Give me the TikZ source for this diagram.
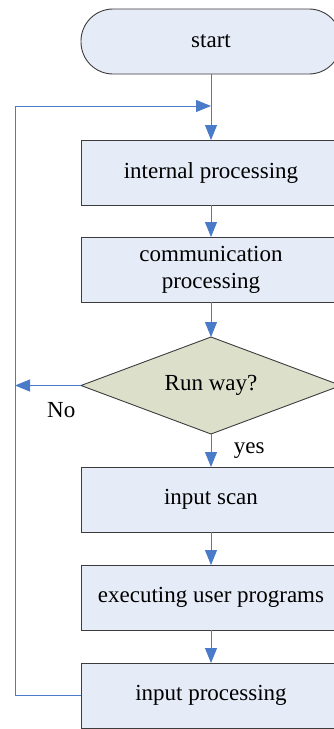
\documentclass[tikz,border=0pt]{standalone}
\usepackage{fontspec}
\setmainfont{Liberation Serif}
\usepackage{tikz}
\usetikzlibrary{arrows.meta,shapes,positioning}

\definecolor{boxfill}{HTML}{E6ECF7}
\definecolor{askfill}{HTML}{DCE0CB}
\definecolor{flowblue}{HTML}{4A7BC8}
\definecolor{edge}{HTML}{3C3C3C}

\tikzset{
    stepbox/.style={rectangle, draw=edge, fill=boxfill, line width=0.9pt,
        minimum width=260pt, minimum height=65pt, inner sep=0pt, outer sep=0pt,
        align=center, font=\fontsize{23}{27}\selectfont},
    terminal/.style={stepbox, rounded corners=32pt},
    ask/.style={diamond, aspect=2.68, draw=edge, fill=askfill, line width=0.9pt,
        minimum width=260pt, minimum height=97pt, inner sep=0pt, outer sep=0pt,
        font=\fontsize{23}{27}\selectfont},
    flow/.style={draw=flowblue, line width=1pt,
        -{Triangle[length=15pt,width=12pt]}},
    lbl/.style={font=\fontsize{23}{27}\selectfont}
}

\begin{document}
\begin{tikzpicture}[x=1pt,y=1pt]
    \useasboundingbox (0,0) rectangle (334,-729);
    \node[terminal] (start) at (211,-41.5) {start};
    \node[stepbox, below=66pt of start] (internal) {internal processing};
    \node[stepbox, below=32pt of internal] (comm) {communication\\processing};
    \node[ask, below=35pt of comm] (runway) {Run way?};
    \node[stepbox, below=33pt of runway] (scan) {input scan};
    \node[stepbox, below=33pt of scan] (exec) {executing user programs};
    \node[stepbox, below=33pt of exec] (inproc) {input processing};

    \coordinate[below=32pt of start.south] (merge);
    \coordinate[left=66pt of inproc.west] (turn);

    \draw[flow] (start) -- (internal);
    \draw[flow] (internal) -- (comm);
    \draw[flow] (comm) -- (runway);
    \draw[flow] (runway) -- (scan)
        node[lbl, midway, right=19pt] {yes};
    \draw[flow] (scan) -- (exec);
    \draw[flow] (exec) -- (inproc);
    \draw[flow] (runway.west) -- (runway.west -| turn)
        node[lbl, pos=0.3, below=13pt] {No};
    \draw[flow] (inproc.west) -- (turn) |- (merge);
\end{tikzpicture}
\end{document}
